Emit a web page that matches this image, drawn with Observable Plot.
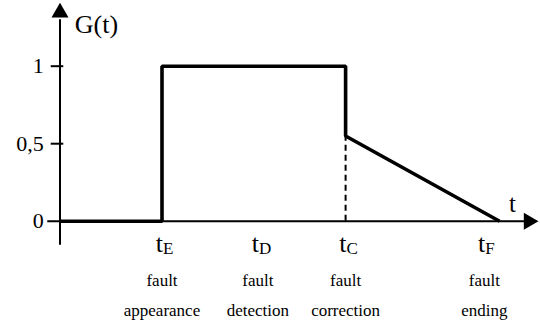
<!DOCTYPE html>
<html>
<head>
<meta charset="utf-8">
<script src="https://cdn.jsdelivr.net/npm/d3@7"></script>
<script src="https://cdn.jsdelivr.net/npm/@observablehq/plot@0.6"></script>
<style>
  html, body { margin: 0; padding: 0; background: #fff; }
</style>
</head>
<body>
<div id="chart"></div>
<script>
// ---- data ----
const curveT = [0, 1, 1, 2.8, 2.8, 4.31];
const curveG = [0, 0, 1, 1, 0.55, 0];
const correctionT = 2.8;
const correctionG = 0.55;
const eventSubs = ["E", "D", "C", "F"];
const eventT = [1, 1.94, 2.8, 4.16];
const captionTop = ["fault", "fault", "fault", "fault"];
const captionBottom = ["appearance", "detection", "correction", "ending"];
const yTicks = [0, 0.5, 1];
const yTickLabels = ["0", "0,5", "1"];
const yAxisLabel = "G(t)";
const xAxisLabel = "t";

// ---- derived tables ----
const curve = curveT.map((t, i) => ({t, g: curveG[i]}));
const events = eventT.map((t, i) => ({t, sub: eventSubs[i], top: captionTop[i], bottom: captionBottom[i]}));
const ticks = yTicks.map((v, i) => ({v, label: yTickLabels[i]}));

const serif = "'Liberation Serif', 'Times New Roman', serif";

function triangleSymbol(dir) {
  return {
    draw(ctx, size) {
      const y = Math.sqrt(size / (3 * Math.sqrt(3)));
      const h = Math.sqrt(3) * y;
      if (dir === "right") {
        ctx.moveTo(2 * y, 0); ctx.lineTo(-y, h); ctx.lineTo(-y, -h);
      } else {
        ctx.moveTo(0, -2 * y); ctx.lineTo(h, y); ctx.lineTo(-h, y);
      }
      ctx.closePath();
    }
  };
}

const chart = Plot.plot({
  width: 540,
  height: 323,
  margin: 0,
  style: {background: "#fff", overflow: "visible"},
  x: {type: "linear", domain: [0, 1], range: [59.5, 161.5], axis: null},
  y: {type: "linear", domain: [0, 1], range: [220.7, 65.7], axis: null},
  marks: [
    // axes
    Plot.ruleY([0], {x1: -0.12, x2: 4.56, stroke: "#000", strokeWidth: 2}),
    Plot.ruleX([0], {y1: -0.155, y2: 1.3, stroke: "#000", strokeWidth: 2}),
    Plot.dot([0], {x: 0, y: 1.346, r: 6.3, symbol: triangleSymbol("up"), fill: "#000", stroke: null}),
    Plot.dot([0], {x: 4.595, y: 0, r: 6.3, symbol: triangleSymbol("right"), fill: "#000", stroke: null}),
    // y ticks
    Plot.ruleY(yTicks.filter(v => v > 0), {x1: -0.086, x2: 0.037, stroke: "#000", strokeWidth: 2}),
    Plot.text(ticks, {x: -0.16, y: "v", text: "label", textAnchor: "end", fontSize: 22, fontFamily: serif, fill: "#000"}),
    // axis labels
    Plot.text([yAxisLabel], {x: 0.145, y: 1.267, text: d => d, textAnchor: "start", fontSize: 26, fontFamily: serif, fill: "#000"}),
    Plot.text([xAxisLabel], {x: 4.436, y: 0.112, text: d => d, fontSize: 25, fontFamily: serif, fill: "#000"}),
    // dashed guide at correction
    Plot.ruleX([correctionT], {y1: 0, y2: correctionG, stroke: "#000", strokeWidth: 2, strokeDasharray: "6,4"}),
    // G(t) curve
    Plot.line(curve, {x: "t", y: "g", stroke: "#000", strokeWidth: 3.6, strokeLinejoin: "miter", strokeLinecap: "butt"}),
    // event labels t_X
    Plot.text(events, {x: "t", y: -0.142, text: () => "t", textAnchor: "end", dx: 1, fontSize: 26, fontFamily: serif, fill: "#000"}),
    Plot.text(events, {x: "t", y: -0.174, text: "sub", textAnchor: "start", dx: 1, fontSize: 17, fontFamily: serif, fill: "#000"}),
    // captions
    Plot.text(events, {x: "t", y: -0.386, text: "top", fontSize: 17, fontFamily: serif, fill: "#000"}),
    Plot.text(events, {x: "t", y: -0.578, text: "bottom", fontSize: 17, fontFamily: serif, fill: "#000"})
  ]
});
document.getElementById("chart").appendChild(chart);
</script>
</body>
</html>
